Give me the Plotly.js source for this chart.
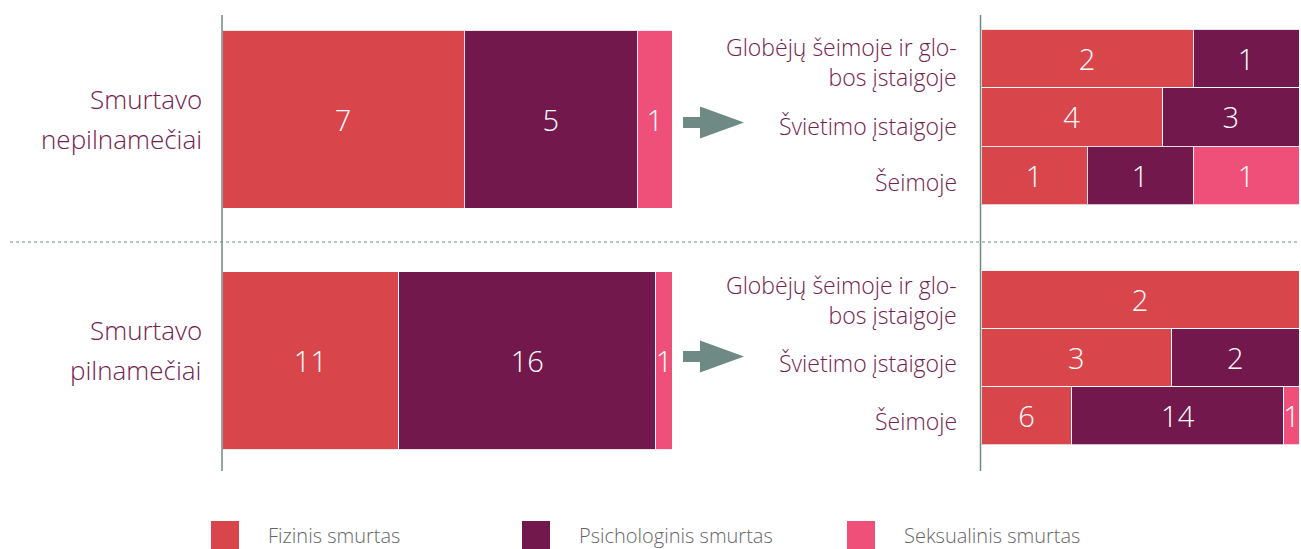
<!DOCTYPE html>
<html>
<head>
<meta charset="utf-8">
<script src="https://cdn.plot.ly/plotly-3.0.1.min.js"></script>
<style>html,body{margin:0;padding:0;background:#fff}#chart{width:1301px;height:549px}</style>
</head>
<body>
<div id="chart"></div>
<script>
// ---- data ----
const seriesNames = ["Fizinis smurtas", "Psichologinis smurtas", "Seksualinis smurtas"];
const groups = ["Smurtavo nepilnamečiai", "Smurtavo pilnamečiai"];
const places = ["Globėjų šeimoje ir glo-<br>bos įstaigoje", "Švietimo įstaigoje", "Šeimoje"];

// left bars: per series, [nepilnamečiai, pilnamečiai]
const leftFizinis = [7, 11];
const leftPsich = [5, 16];
const leftSeks = [1, 1];

// right bars, minors: per series, per place
const minorFizinis = [2, 4, 1];
const minorPsich = [1, 3, 1];
const minorSeks = [0, 0, 1];

// right bars, adults
const adultFizinis = [2, 3, 6];
const adultPsich = [0, 2, 14];
const adultSeks = [0, 0, 1];

// ---- styles ----
const colors = ["#d8464b", "#72184c", "#ef5079"];
const labelColor = "#74204f";
const axisColor = "#6f8a85";
const FONT = "Open Sans, sans-serif";
const W = 1301, H = 549;
const px = x => x / W;
const py = y => 1 - y / H;

function shares(seriesList) {
  const n = seriesList[0].length;
  const totals = [];
  for (let i = 0; i < n; i++) totals.push(seriesList.reduce((a, s) => a + s[i], 0));
  return seriesList.map(s => s.map((v, i) => v / totals[i]));
}

const traces = [];
function addBars(seriesList, cats, xa, ya, width) {
  const sh = shares(seriesList);
  seriesList.forEach((vals, k) => {
    traces.push({
      type: "bar", orientation: "h",
      y: cats, x: sh[k], xaxis: xa, yaxis: ya,
      width: width,
      name: seriesNames[k],
      text: vals.map(v => v > 0 ? String(v) : ""),
      textposition: "inside", insidetextanchor: "middle", constraintext: "none",
      textfont: {color: "#ffffff", size: 29, family: FONT, weight: 300},
      marker: {color: colors[k], line: {color: "rgba(255,255,255,0.85)", width: 1}},
      hoverinfo: "skip", showlegend: false, cliponaxis: false
    });
  });
}
addBars([leftFizinis, leftPsich, leftSeks], groups, "x", "y", 178 / 241);
addBars([minorFizinis, minorPsich, minorSeks], places, "x2", "y2", 1);
addBars([adultFizinis, adultPsich, adultSeks], places, "x3", "y3", 1);

const rightAxis = (domain) => ({
  domain: domain, type: "category", range: [2.5, -0.5], fixedrange: true,
  showgrid: false, zeroline: false, showline: false, ticks: "", showticklabels: false
});
const xCommon = {range: [0, 1], showgrid: false, zeroline: false, showline: false, showticklabels: false, ticks: "", fixedrange: true};

const shapes = [
  // axis lines
  {type: "line", xref: "paper", yref: "paper", x0: px(222), x1: px(222), y0: py(15), y1: py(471), line: {color: axisColor, width: 1.5}},
  {type: "line", xref: "paper", yref: "paper", x0: px(980.5), x1: px(980.5), y0: py(15), y1: py(471), line: {color: axisColor, width: 1.5}},
  // separator
  {type: "line", xref: "paper", yref: "paper", x0: px(10), x1: px(1299), y0: py(242), y1: py(242), line: {color: axisColor, width: 1, dash: "dot"}}
];
// arrows
function arrow(cy) {
  const pts = [[683, cy - 5.5], [700, cy - 5.5], [700, cy - 16], [744, cy], [700, cy + 16], [700, cy + 5.5], [683, cy + 5.5]];
  const d = "M" + pts.map(p => px(p[0]) + "," + py(p[1])).join("L") + "Z";
  shapes.push({type: "path", xref: "paper", yref: "paper", path: d, fillcolor: axisColor, line: {width: 0}});
}
arrow(122.5);
arrow(356.5);

const annotations = [];
function label(text, x, cy, size, color) {
  annotations.push({xref: "paper", yref: "paper", x: px(x), y: py(cy), xanchor: "right", yanchor: "middle", align: "right",
    text: text, showarrow: false, font: {family: FONT, size: size, color: color, weight: 300}});
}
// left group labels (line centres, px)
const groupLineY = [[99.5, 139.5], [329.5, 369.5]];
groups.forEach((g, i) => {
  g.split(" ").forEach((line, j) => label(line, 204, groupLineY[i][j], 26, labelColor));
});
// right place labels (label centres per block, px)
const placeY = [[62, 126, 182], [300, 363, 421]];
placeY.forEach(block => {
  places.forEach((p, r) => label(p, 959, block[r], 23, labelColor));
});
// legend
const legendX = [211, 522, 847];
seriesNames.forEach((n, k) => {
  shapes.push({type: "rect", xref: "paper", yref: "paper", x0: px(legendX[k]), x1: px(legendX[k] + 28), y0: py(549), y1: py(521), fillcolor: colors[k], line: {width: 0}});
  annotations.push({xref: "paper", yref: "paper", x: px(legendX[k] + 55), y: py(535.5), xanchor: "left", yanchor: "middle",
    text: n, showarrow: false, font: {family: FONT, size: 20, color: "#666666", weight: 300}});
});

const layout = {
  width: W, height: H, margin: {l: 0, r: 0, t: 0, b: 0},
  paper_bgcolor: "#ffffff", plot_bgcolor: "rgba(0,0,0,0)",
  barmode: "stack", showlegend: false,
  xaxis: Object.assign({domain: [px(222), px(672)], anchor: "y"}, xCommon),
  yaxis: {domain: [py(471), py(15)], type: "category", range: [1 + 110 / 241, -104 / 241], anchor: "x",
    showgrid: false, zeroline: false, showline: false, showticklabels: false, ticks: "", fixedrange: true},
  xaxis2: Object.assign({domain: [px(981), px(1299)], anchor: "y2"}, xCommon),
  yaxis2: Object.assign(rightAxis([py(204.5), py(29)]), {anchor: "x2"}),
  xaxis3: Object.assign({domain: [px(981), px(1299)], anchor: "y3"}, xCommon),
  yaxis3: Object.assign(rightAxis([py(444.5), py(270.5)]), {anchor: "x3"}),
  shapes: shapes, annotations: annotations
};

Plotly.newPlot("chart", traces, layout, {displayModeBar: false, staticPlot: true});
</script>
</body>
</html>
